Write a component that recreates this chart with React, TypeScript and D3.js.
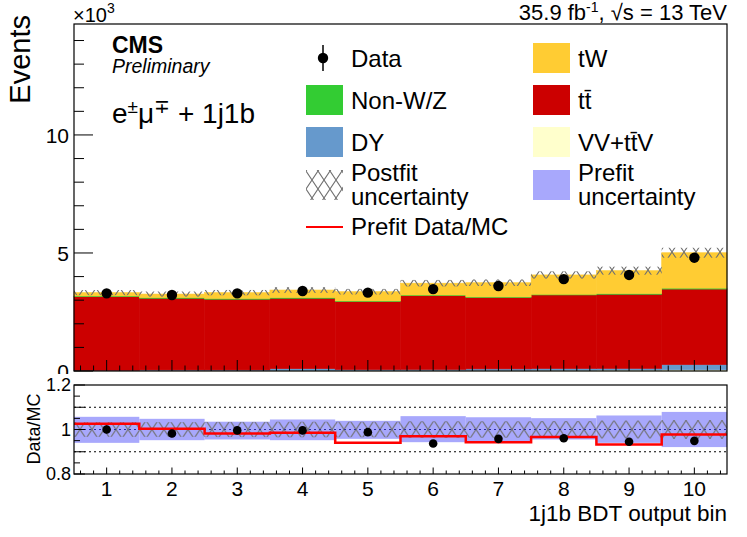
import * as d3 from 'd3';

const W = 747;
const H = 537;
const FONT = '"Liberation Sans", Arial, Helvetica, sans-serif';

// panel geometry
const [pl, pr] = [74, 727];
const [mainTop, mainBot] = [24, 371];
const [ratTop, ratBot] = [385, 474];

// values (events per bin)
const bins = [1, 2, 3, 4, 5, 6, 7, 8, 9, 10];
const dataEvents = [3290, 3220, 3290, 3390, 3320, 3470, 3600, 3890, 4070, 4800];
const vvttv = [10, 15, 15, 20, 20, 25, 30, 35, 40, 50];
const dyEvents = [20, 30, 30, 80, 40, 40, 60, 70, 70, 220];
const ttbar = [3120, 3035, 2995, 2980, 2880, 3125, 3020, 3115, 3140, 3200];
const nonWZ = [30, 30, 30, 30, 30, 30, 30, 30, 30, 40];
const tW = [140, 150, 250, 320, 390, 500, 600, 820, 970, 1500];
const postfitRelUnc = [0.033, 0.033, 0.034, 0.035, 0.035, 0.037, 0.037, 0.038, 0.04, 0.042];

// ratio panel
const ratioData = [1.0, 0.982, 0.996, 0.996, 0.988, 0.937, 0.958, 0.961, 0.945, 0.949];
const prefitRatio = [1.026, 1.003, 0.982, 0.985, 0.94, 0.97, 0.943, 0.966, 0.933, 0.978];
const prefitUp = [1.057, 1.048, 1.035, 1.045, 1.039, 1.06, 1.055, 1.051, 1.063, 1.079];
const prefitDown = [0.94, 0.952, 0.955, 0.952, 0.958, 0.943, 0.948, 0.955, 0.94, 0.921];

const mainTicks = [0, 5000, 10000];
const ratioTicks = [0.8, 1, 1.2];

const colors = {
    vv: '#ffffcc',
    dy: '#6699cc',
    tt: '#cc0000',
    nonwz: '#33cc33',
    tw: '#ffcc33',
    prefit: '#a8a8fc',
    hatch: '#707070'
};

const stackKeys = ['vv', 'dy', 'tt', 'nonwz', 'tw'] as const;
type Row = { bin: number; vv: number; dy: number; tt: number; nonwz: number; tw: number };

const rows: Row[] = bins.map((b, i) => ({
    bin: b,
    vv: vvttv[i],
    dy: dyEvents[i],
    tt: ttbar[i],
    nonwz: nonWZ[i],
    tw: tW[i]
}));

export default function App() {
    const x = d3.scaleLinear().domain([0.5, 10.5]).range([pl, pr]);
    const y = d3.scaleLinear().domain([0, 14700]).range([mainBot, mainTop]);
    const yr = d3.scaleLinear().domain([0.8, 1.2]).range([ratBot, ratTop]);

    const series = d3.stack<Row>().keys(stackKeys as unknown as string[])(rows);
    const totals = rows.map((r) => r.vv + r.dy + r.tt + r.nonwz + r.tw);

    const xMinor = d3.range(3, 53).map((k) => k / 5);
    const yMinor = d3.range(0, 15).map((k) => k * 1000);
    const rMinor = d3.range(16, 25).map((k) => k / 20);

    const stepLine = d3
        .line<[number, number]>()
        .x((d) => x(d[0]))
        .y((d) => yr(d[1]))
        .curve(d3.curveStepAfter);
    const prefitPts: [number, number][] = bins.map((b, i) => [b - 0.5, prefitRatio[i]]);
    prefitPts.push([10.5, prefitRatio[prefitRatio.length - 1]]);

    const binX = (b: number) => x(b - 0.5);
    const binW = x(1.5) - x(0.5);

    const legendText = { fontSize: 24, fontFamily: FONT };

    return (
        <svg width={W} height={H} style={{ position: 'absolute', left: 0, top: 0, background: '#fff' }}>
            <defs>
                <pattern id="hatch" patternUnits="userSpaceOnUse" x={0} y={0} width={12} height={18}>
                    <path d="M0,0L12,18M12,0L0,18" stroke={colors.hatch} strokeWidth={1.1} />
                </pattern>
                <pattern id="hatchR" patternUnits="userSpaceOnUse" x={pl} y={yr(1) - 9} width={12} height={18}>
                    <path d="M0,0L12,18M12,0L0,18" stroke={colors.hatch} strokeWidth={1.1} />
                </pattern>
                <clipPath id="ratioClip">
                    <rect x={pl} y={ratTop} width={pr - pl} height={ratBot - ratTop} />
                </clipPath>
            </defs>

            {/* main panel tick labels (the ratio pad covers the lower part of the "0") */}
            {mainTicks.map((v) => (
                <text key={v} x={69} y={y(v)} dy="0.36em" textAnchor="end" fontSize={21} fontFamily={FONT}>
                    {v / 1000}
                </text>
            ))}

            {/* stacked histograms */}
            {series.map((s) => (
                <g key={s.key} fill={colors[s.key as keyof typeof colors]} stroke={colors[s.key as keyof typeof colors]} strokeWidth={0.6}>
                    {s.map((d, i) => (
                        <rect
                            key={i}
                            x={binX(bins[i])}
                            width={binW}
                            y={y(d[1])}
                            height={Math.max(0, y(d[0]) - y(d[1]))}
                        />
                    ))}
                </g>
            ))}

            {/* postfit uncertainty on the stack */}
            {bins.map((b, i) => (
                <rect
                    key={b}
                    x={binX(b)}
                    width={binW}
                    y={y(totals[i] * (1 + postfitRelUnc[i]))}
                    height={y(totals[i] * (1 - postfitRelUnc[i])) - y(totals[i] * (1 + postfitRelUnc[i]))}
                    fill="url(#hatch)"
                />
            ))}

            {/* data */}
            {bins.map((b, i) => (
                <g key={b}>
                    <line
                        x1={x(b)}
                        x2={x(b)}
                        y1={y(dataEvents[i] + Math.sqrt(dataEvents[i]))}
                        y2={y(dataEvents[i] - Math.sqrt(dataEvents[i]))}
                        stroke="#000"
                    />
                    <circle cx={x(b)} cy={y(dataEvents[i])} r={5.2} fill="#000" />
                </g>
            ))}

            {/* main frame and ticks */}
            <rect x={pl} y={mainTop} width={pr - pl} height={mainBot - mainTop} fill="none" stroke="#000" strokeWidth={1.2} />
            {yMinor.map((v) => (
                <line key={v} x1={pl} x2={pl + (v % 5000 === 0 ? 19 : 10)} y1={y(v)} y2={y(v)} stroke="#000" />
            ))}
            {xMinor.map((v) => (
                <line
                    key={v}
                    x1={x(v)}
                    x2={x(v)}
                    y1={mainBot}
                    y2={mainBot - (Math.abs(v - Math.round(v)) < 1e-6 ? 11 : 5.5)}
                    stroke="#000"
                />
            ))}
            <text x={73} y={22} fontSize={20} fontFamily={FONT}>
                ×10<tspan dy={-9} fontSize={14}>3</tspan>
            </text>
            <text transform="translate(30,15) rotate(-90)" textAnchor="end" fontSize={29} fontFamily={FONT}>
                Events
            </text>
            <text x={727} y={20} textAnchor="end" fontSize={22} fontFamily={FONT}>
                35.9 fb<tspan dy={-8} fontSize={14}>-1</tspan>
                <tspan dy={8}>, √s = 13 TeV</tspan>
            </text>

            {/* CMS labels */}
            <text x={112} y={53} fontSize={23} fontWeight="bold" fontFamily={FONT}>
                CMS
            </text>
            <text x={112} y={73} fontSize={19.5} fontStyle="italic" fontFamily={FONT}>
                Preliminary
            </text>
            <text x={112} y={123} fontSize={28} fontFamily={FONT}>
                e<tspan dy={-10} fontSize={19}>±</tspan>
                <tspan dy={10}>μ</tspan>
                <tspan dy={-10} fontSize={19}>∓</tspan>
                <tspan dy={10}> + 1j1b</tspan>
            </text>

            {/* legend, left column */}
            <line x1={323} x2={323} y1={45} y2={71} stroke="#000" strokeWidth={1.5} />
            <circle cx={323} cy={58} r={5.2} fill="#000" />
            <text x={351} y={66.5} {...legendText}>Data</text>
            <rect x={306} y={85} width={37} height={30} fill={colors.nonwz} />
            <text x={351} y={108.5} {...legendText}>Non-W/Z</text>
            <rect x={306} y={127} width={37} height={30} fill={colors.dy} />
            <text x={351} y={150.5} {...legendText}>DY</text>
            <rect x={306} y={170} width={37} height={30} fill="url(#hatch)" />
            <text x={351} y={181} {...legendText}>Postfit</text>
            <text x={351} y={205} {...legendText}>uncertainty</text>
            <line x1={306} x2={343} y1={227} y2={227} stroke="#ff0000" strokeWidth={2} />
            <text x={351} y={234.5} {...legendText}>Prefit Data/MC</text>

            {/* legend, right column */}
            <rect x={533} y={43} width={37} height={30} fill={colors.tw} />
            <text x={578} y={66.5} {...legendText}>tW</text>
            <rect x={533} y={85} width={37} height={30} fill={colors.tt} />
            <text x={578} y={108.5} {...legendText}>tt̄</text>
            <rect x={533} y={127} width={37} height={30} fill={colors.vv} />
            <text x={578} y={150.5} {...legendText}>VV+tt̄V</text>
            <rect x={533} y={170} width={37} height={30} fill={colors.prefit} />
            <text x={578} y={181} {...legendText}>Prefit</text>
            <text x={578} y={205} {...legendText}>uncertainty</text>

            {/* ratio pad background */}
            <rect x={0} y={374} width={W} height={H - 374} fill="#fff" />

            {/* ratio panel */}
            <g clipPath="url(#ratioClip)">
                {bins.map((b, i) => (
                    <rect
                        key={b}
                        x={binX(b)}
                        width={binW}
                        y={yr(prefitUp[i])}
                        height={yr(prefitDown[i]) - yr(prefitUp[i])}
                        fill={colors.prefit}
                    />
                ))}
                {bins.map((b, i) => (
                    <rect
                        key={b}
                        x={binX(b)}
                        width={binW}
                        y={yr(1 + postfitRelUnc[i])}
                        height={yr(1 - postfitRelUnc[i]) - yr(1 + postfitRelUnc[i])}
                        fill="url(#hatchR)"
                    />
                ))}
                {[1.1, 0.9].map((v) => (
                    <line key={v} x1={pl} x2={pr} y1={yr(v)} y2={yr(v)} stroke="#000" strokeDasharray="2,3" />
                ))}
                <line x1={pl} x2={pr} y1={yr(1)} y2={yr(1)} stroke="#2a2aa0" strokeDasharray="2,3" />
                <path d={stepLine(prefitPts) ?? ''} fill="none" stroke="#ff0000" strokeWidth={2.5} />
                {bins.map((b, i) => {
                    const err = Math.sqrt(dataEvents[i]) / totals[i];
                    return (
                        <g key={b}>
                            <line
                                x1={x(b)}
                                x2={x(b)}
                                y1={yr(ratioData[i] + err)}
                                y2={yr(ratioData[i] - err)}
                                stroke="#000"
                            />
                            <circle cx={x(b)} cy={yr(ratioData[i])} r={4.3} fill="#000" />
                        </g>
                    );
                })}
            </g>
            <rect x={pl} y={ratTop} width={pr - pl} height={ratBot - ratTop} fill="none" stroke="#000" strokeWidth={1.2} />
            {rMinor.map((v) => (
                <line
                    key={v}
                    x1={pl}
                    x2={pl + (Math.round(v * 20) % 2 === 0 ? 11 : 6)}
                    y1={yr(v)}
                    y2={yr(v)}
                    stroke="#000"
                />
            ))}
            {xMinor.map((v) => (
                <line
                    key={v}
                    x1={x(v)}
                    x2={x(v)}
                    y1={ratBot}
                    y2={ratBot - (Math.abs(v - Math.round(v)) < 1e-6 ? 6.5 : 3.5)}
                    stroke="#000"
                />
            ))}
            {ratioTicks.map((v) => (
                <text key={v} x={71} y={yr(v)} dy="0.36em" textAnchor="end" fontSize={18} fontFamily={FONT}>
                    {v}
                </text>
            ))}
            {bins.map((b) => (
                <text key={b} x={x(b)} y={496} textAnchor="middle" fontSize={21} fontFamily={FONT}>
                    {b}
                </text>
            ))}
            <text transform="translate(40,429) rotate(-90)" textAnchor="middle" fontSize={18} fontFamily={FONT}>
                Data/MC
            </text>
            <text x={727} y={521} textAnchor="end" fontSize={22.5} fontFamily={FONT}>
                1j1b BDT output bin
            </text>
        </svg>
    );
}
